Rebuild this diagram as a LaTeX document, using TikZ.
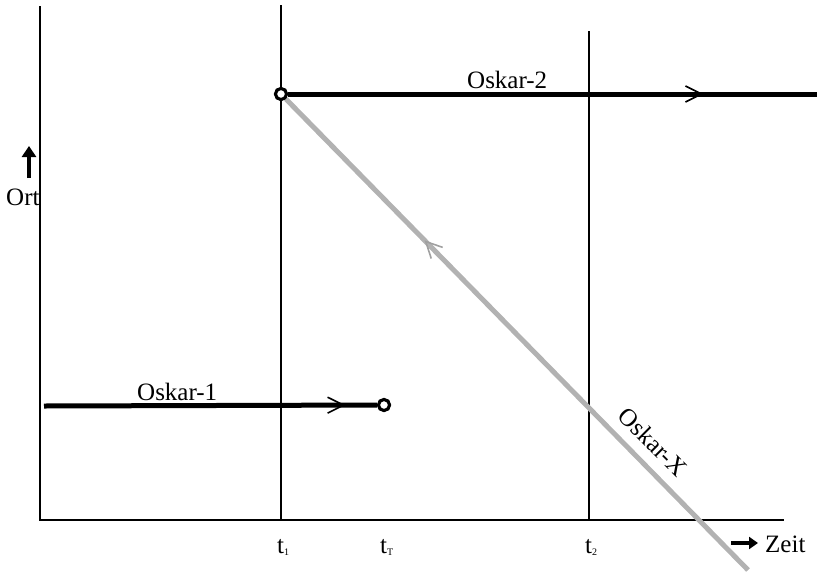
\documentclass[tikz,border=0pt]{standalone}
\usepackage{fontspec}
\setmainfont{Liberation Serif}
\usetikzlibrary{arrows.meta,decorations.markings}
\tikzset{mybarb/.tip={Straight Barb[length=16pt,width=16pt,line width=1.6pt]}}
\begin{document}
\begin{tikzpicture}[x=1pt,y=-1pt,
  lbl/.style={inner sep=0pt,font=\fontsize{25}{29}\selectfont},
  axisline/.style={line width=2.5pt,black},
  tline/.style={line width=2pt,black},
  world/.style={line width=5pt,black},
  xline/.style={line width=5pt,color={rgb,255:red,178;green,178;blue,178}},
  endpt/.style={circle,draw,fill=white,line width=3pt,minimum size=11pt,inner sep=0pt},
  bigarrow/.style={line width=4pt,-{Triangle[length=11pt,width=14pt]}}
]
\useasboundingbox (0,0) rectangle (817,571);
% coordinates
\coordinate (ytop) at (40,6);
\coordinate (origin) at (40,520);
\coordinate (xend) at (784,520);
\coordinate (t1top) at (281,5);
\coordinate (t1bot) at (281,520);
\coordinate (t2top) at (589,31);
\coordinate (t2bot) at (589,520);
\coordinate (o1start) at (44,406);
\coordinate (o2end) at (817,94);
\coordinate (xstop) at (748,570);
\coordinate (ortA) at (29,178);
\coordinate (ortB) at (29,146);
\coordinate (zeitA) at (731,543);
\coordinate (zeitB) at (758,543);
% axes
\draw[axisline] (ytop) -- (origin) -- (xend);
\draw[tline] (t1top) -- (t1bot);
\draw[tline] (t2top) -- (t2bot);
% end point circles
\node[endpt] (c1) at (281,94) {};
\node[endpt] (c2) at (384,405) {};
% Oskar-X (grey)
\draw[xline,postaction={decorate},decoration={markings,
   mark=at position 0.30 with {\arrowreversed[color={rgb,255:red,160;green,160;blue,160}]{mybarb}}}]
   (c1) -- (xstop);
% Oskar-2
\draw[world,postaction={decorate},decoration={markings,
   mark=at position 0.785 with {\arrow{mybarb}}}]
   (c1) -- (o2end);
% Oskar-1
\draw[world,postaction={decorate},decoration={markings,
   mark=at position 0.905 with {\arrow{mybarb}}}]
   (o1start) -- (c2);
% redraw circles on top
\node[endpt] at (c1) {};
\node[endpt] at (c2) {};
% labels
\node[lbl,anchor=base west] (l2) at (467,88) {Oskar-2};
\node[lbl,anchor=base west] (l1) at (137,400) {Oskar-1};
\node[lbl,rotate=-45] (lx) at (653,442) {Oskar-X};
\node[lbl,anchor=base west] (ort) at (6,205) {Ort};
\draw[bigarrow] (ortA) -- (ortB);
\node[lbl,anchor=base west] (t1) at (277,553) {t\raisebox{-2pt}{\fontsize{10}{10}\selectfont 1}};
\node[lbl,anchor=base west] (tT) at (380,553) {t\raisebox{-2pt}{\fontsize{10}{10}\selectfont T}};
\node[lbl,anchor=base west] (t2) at (585,553) {t\raisebox{-2pt}{\fontsize{10}{10}\selectfont 2}};
\node[lbl,anchor=base west] (zeit) at (765,552) {Zeit};
\draw[bigarrow,line width=3.5pt,-{Triangle[length=9pt,width=12pt]}] (zeitA) -- (zeitB);
\end{tikzpicture}
\end{document}
